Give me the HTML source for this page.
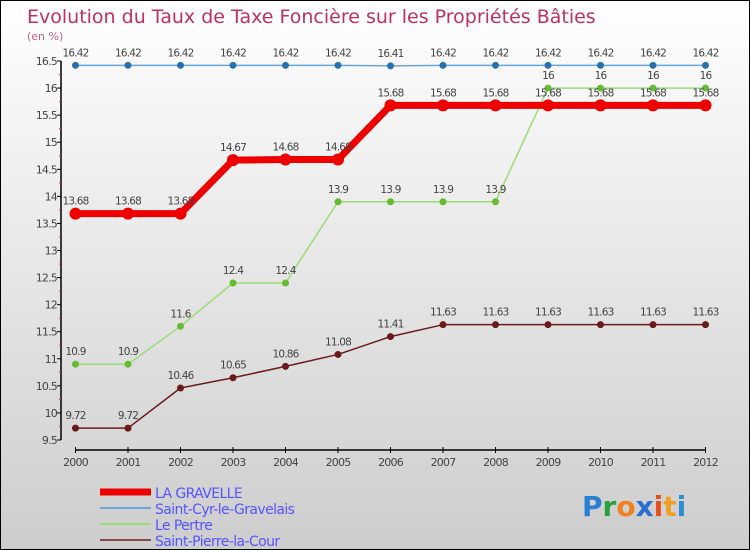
<!DOCTYPE html>
<html><head><meta charset="utf-8"><style>
body{margin:0;width:750px;height:550px;overflow:hidden}
svg{display:block;font-family:"DejaVu Sans","Liberation Sans",sans-serif}
</style></head><body>
<svg width="750" height="550" viewBox="0 0 750 550">
<defs><linearGradient id="bg" x1="0" y1="0" x2="0" y2="1"><stop offset="0" stop-color="#ffffff"/><stop offset="1" stop-color="#cdcdcd"/></linearGradient></defs>
<rect x="0.5" y="0.5" width="749" height="549" fill="url(#bg)" stroke="#000"/>
<text x="27" y="23" font-size="19" fill="#c0305e">Evolution du Taux de Taxe Foncière sur les Propriétés Bâties</text>
<text x="27" y="40" font-size="11" fill="#c06080">(en %)</text>
<g id="axes"></g>
<g id="series"></g>
<g id="legend"></g>
<text x="582" y="516" font-size="28" font-weight="bold"><tspan fill="#2a7fd4">P</tspan><tspan fill="#2aa040">r</tspan><tspan fill="#f08020">o</tspan><tspan fill="#2a70d0">x</tspan><tspan fill="#e05020">i</tspan><tspan fill="#f0a020">t</tspan><tspan fill="#2a90d0">i</tspan></text>
</svg>
<script>
const years=[2000,2001,2002,2003,2004,2005,2006,2007,2008,2009,2010,2011,2012];
const yTicks=[9.5,10,10.5,11,11.5,12,12.5,13,13.5,14,14.5,15,15.5,16,16.5];
const laGravelle=[13.68,13.68,13.68,14.67,14.68,14.68,15.68,15.68,15.68,15.68,15.68,15.68,15.68];
const saintCyr=[16.42,16.42,16.42,16.42,16.42,16.42,16.41,16.42,16.42,16.42,16.42,16.42,16.42];
const lePertre=[10.9,10.9,11.6,12.4,12.4,13.9,13.9,13.9,13.9,16,16,16,16];
const saintPierre=[9.72,9.72,10.46,10.65,10.86,11.08,11.41,11.63,11.63,11.63,11.63,11.63,11.63];
const NS="http://www.w3.org/2000/svg";
const xS=i=>75.5+i*(705.5-75.5)/(years.length-1);
const yS=v=>440-(v-9.5)*(440-61)/7;
function mk(tag,attrs,parent,text){const e=document.createElementNS(NS,tag);for(const k in attrs)e.setAttribute(k,attrs[k]);if(text!==undefined)e.textContent=text;parent.appendChild(e);return e;}
const ax=document.getElementById('axes');
let l=mk('line',{x1:61,y1:61,x2:61,y2:440,stroke:'#000','stroke-width':1.5},ax);


yTicks.forEach((t,k)=>{
 const y=yS(t);
 const tk=mk('line',{x1:57,y1:y,x2:61,y2:y,stroke:'#000'},ax);
 
 
 if(k<yTicks.length-1){
  const ym=(y+yS(yTicks[k+1]))/2;
  const mt=mk('line',{x1:59,y1:ym,x2:61,y2:ym,stroke:'#e03030'},ax);
  
  
 }
 const tl=mk('text',{x:57,y:y+4,'font-size':11,'text-anchor':'end',fill:'#444','letter-spacing':'-0.8'},ax,String(t));
 
 
});
const xa=mk('line',{x1:75,y1:450,x2:706,y2:450,stroke:'#000','stroke-width':1.5},ax);


years.forEach((yr,i)=>{
 const x=xS(i);
 const tk=mk('line',{x1:x,y1:447,x2:x,y2:453,stroke:'#000'},ax);
 
 
 const tl=mk('text',{x:x,y:466,'font-size':11,'text-anchor':'middle',fill:'#444','letter-spacing':'-0.8'},ax,String(yr));
 
 
});
const sg=document.getElementById('series');
const series=[
 {name:'saint-pierre-la-cour',data:saintPierre,color:'#6b1a1a',w:1.5,r:3.5},
 {name:'le-pertre',data:lePertre,color:'#99dd77',w:1.5,r:3.5,pc:'#66bb33'},
 {name:'la-gravelle',data:laGravelle,color:'#ee0000',w:7,r:6},
 {name:'saint-cyr-le-gravelais',data:saintCyr,color:'#6aa6d6',w:1.5,r:3.5,pc:'#2a70b0'}
];
series.forEach(s=>{
 const pts=s.data.map((v,i)=>xS(i)+','+yS(v)).join(' ');
 const pl=mk('polyline',{points:pts,fill:'none',stroke:s.color,'stroke-width':s.w,'stroke-linejoin':'round'},sg);
 
 
 s.data.forEach((v,i)=>{
  const c=mk('circle',{cx:xS(i),cy:yS(v),r:s.r,fill:s.pc||s.color},sg);
  
  
  const t=mk('text',{x:xS(i),y:yS(v)-9,'font-size':10.5,'text-anchor':'middle',fill:'#444','letter-spacing':'-0.8'},sg,String(v));
  
  
 });
});
const lg=document.getElementById('legend');
const entries=[['LA GRAVELLE','#ee0000',7],['Saint-Cyr-le-Gravelais','#6aa6d6',2],['Le Pertre','#99dd77',2],['Saint-Pierre-la-Cour','#8b4a4a',2]];
entries.forEach((e,i)=>{
 const y=492+i*16;
 const g=mk('g',{},lg);
 
 
 mk('line',{x1:100,y1:y,x2:151,y2:y,stroke:e[1],'stroke-width':e[2]},g);
 mk('text',{x:155,y:y+6,'font-size':14,fill:'#5555ff','letter-spacing':'-0.6'},g,e[0]);
});
</script>
</body></html>
